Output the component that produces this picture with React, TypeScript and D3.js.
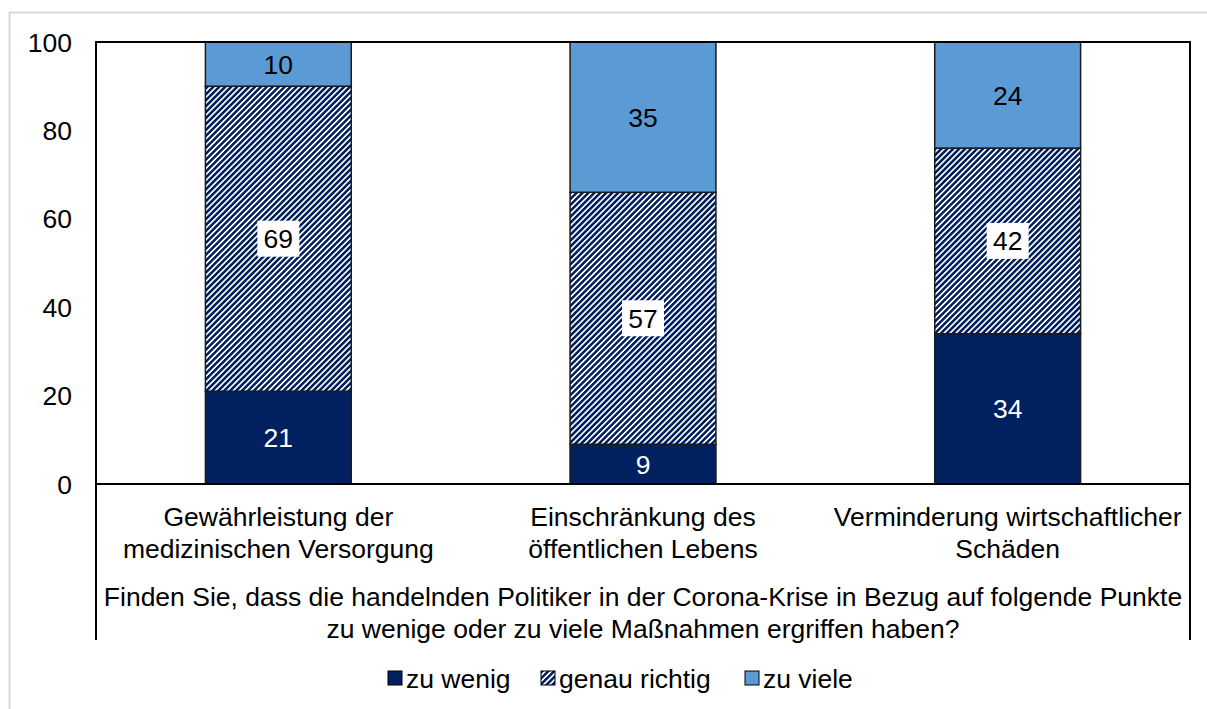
import React, { useEffect, useRef } from 'react';
import * as d3 from 'd3';

const categories = [
  ['Gewährleistung der', 'medizinischen Versorgung'],
  ['Einschränkung des', 'öffentlichen Lebens'],
  ['Verminderung wirtschaftlicher', 'Schäden'],
];
const zuWenig = [21, 9, 34];
const genauRichtig = [69, 57, 42];
const zuViele = [10, 35, 24];
const seriesNames = ['zu wenig', 'genau richtig', 'zu viele'];
const yTicks = [0, 20, 40, 60, 80, 100];
const axisTitle = [
  'Finden Sie, dass die handelnden Politiker in der Corona-Krise in Bezug auf folgende Punkte',
  'zu wenige oder zu viele Maßnahmen ergriffen haben?',
];

const NAVY = '#002060';
const LIGHT = '#5b9bd5';
const FONT = 'Liberation Sans, Arial, sans-serif';
const FS = 26.5;

export default function App() {
  const ref = useRef<SVGSVGElement>(null);

  useEffect(() => {
    const svg = d3.select(ref.current);
    svg.selectAll('*').remove();

    const W = 1207;
    const H = 709;
    const margin = { top: 42, left: 96, right: 17, bottom: 225 };
    const width = W - margin.left - margin.right;
    const height = H - margin.top - margin.bottom;

    // outer chart border (light grey)
    svg.append('path')
      .attr('d', `M9.5,${H} V12.5 H${W}`)
      .attr('fill', 'none')
      .attr('stroke', '#d9d9d9')
      .attr('stroke-width', 2);

    const defs = svg.append('defs');
    const pat = defs.append('pattern')
      .attr('id', 'hatch')
      .attr('patternUnits', 'userSpaceOnUse')
      .attr('width', 4.2)
      .attr('height', 4.2)
      .attr('patternTransform', 'rotate(45)');
    pat.append('rect').attr('width', 4.2).attr('height', 4.2).attr('fill', '#fff');
    pat.append('rect').attr('width', 2.3).attr('height', 4.2).attr('fill', NAVY)
      .attr('shape-rendering', 'crispEdges');

    const g = svg.append('g').attr('transform', `translate(${margin.left},${margin.top})`);

    const x = d3.scaleBand<number>()
      .domain(categories.map((_, i) => i))
      .range([0, width])
      .paddingInner(0.6)
      .paddingOuter(0.3);

    const y = d3.scaleLinear().domain([0, 100]).range([height, 0]).clamp(true);

    const rows = categories.map((_, i) => ({ i, a: zuWenig[i], b: genauRichtig[i], c: zuViele[i] }));
    const stack = d3.stack<any>().keys(['a', 'b', 'c'])(rows);
    const fills = [NAVY, 'url(#hatch)', LIGHT];

    stack.forEach((layer, k) => {
      g.append('g')
        .selectAll('rect')
        .data(layer)
        .enter()
        .append('rect')
        .attr('x', d => x(d.data.i)!)
        .attr('y', d => y(d[1]))
        .attr('width', x.bandwidth())
        .attr('height', d => y(d[0]) - y(d[1]))
        .attr('fill', fills[k])
        .attr('stroke', '#1a1a1a')
        .attr('stroke-width', 1.5);
    });

    // value labels
    stack.forEach((layer, k) => {
      layer.forEach(d => {
        const cx = x(d.data.i)! + x.bandwidth() / 2;
        const cy = (y(d[0]) + y(d[1])) / 2;
        const val = d[1] - d[0];
        if (k === 1) {
          g.append('rect')
            .attr('x', cx - 21)
            .attr('y', cy - 18)
            .attr('width', 42)
            .attr('height', 36)
            .attr('fill', '#fff');
        }
        g.append('text')
          .attr('x', cx)
          .attr('y', cy)
          .attr('dy', '0.36em')
          .attr('text-anchor', 'middle')
          .attr('font-family', FONT)
          .attr('font-size', FS)
          .attr('fill', k === 0 ? '#fff' : '#000')
          .text(val);
      });
    });

    // frame of plot area
    g.append('path')
      .attr('d', `M0,${height + 156} V0 H${width} V${height + 156}`)
      .attr('fill', 'none')
      .attr('stroke', '#000')
      .attr('stroke-width', 2);
    g.append('line')
      .attr('x1', 0).attr('x2', width)
      .attr('y1', height).attr('y2', height)
      .attr('stroke', '#000')
      .attr('stroke-width', 2);

    // y tick labels
    g.selectAll('.ytick')
      .data(yTicks)
      .enter()
      .append('text')
      .attr('x', -24)
      .attr('y', d => y(d))
      .attr('dy', '0.36em')
      .attr('text-anchor', 'end')
      .attr('font-family', FONT)
      .attr('font-size', FS)
      .attr('fill', '#000')
      .text(d => d);

    // category labels
    categories.forEach((lines, i) => {
      lines.forEach((line, j) => {
        g.append('text')
          .attr('x', x(i)! + x.bandwidth() / 2)
          .attr('y', height + 32 + j * 32)
          .attr('dy', '0.36em')
          .attr('text-anchor', 'middle')
          .attr('font-family', FONT)
          .attr('font-size', FS)
          .attr('fill', '#000')
          .text(line);
      });
    });

    // axis title
    axisTitle.forEach((line, j) => {
      g.append('text')
        .attr('x', width / 2)
        .attr('y', height + 112 + j * 32)
        .attr('dy', '0.36em')
        .attr('text-anchor', 'middle')
        .attr('font-family', FONT)
        .attr('font-size', FS)
        .attr('fill', '#000')
        .text(line);
    });

    // legend
    const legendX = [388, 541, 745];
    const legendFill = [NAVY, 'url(#hatch)', LIGHT];
    seriesNames.forEach((name, k) => {
      svg.append('rect')
        .attr('x', legendX[k])
        .attr('y', 671)
        .attr('width', 14)
        .attr('height', 14)
        .attr('fill', legendFill[k])
        .attr('stroke', '#000')
        .attr('stroke-width', 1);
      svg.append('text')
        .attr('x', legendX[k] + 18)
        .attr('y', 678)
        .attr('dy', '0.36em')
        .attr('font-family', FONT)
        .attr('font-size', FS)
        .attr('fill', '#000')
        .text(name);
    });
  }, []);

  return (
    <svg
      ref={ref}
      width={1207}
      height={709}
      style={{ position: 'absolute', left: 0, top: 0, background: '#fff' }}
    />
  );
}
